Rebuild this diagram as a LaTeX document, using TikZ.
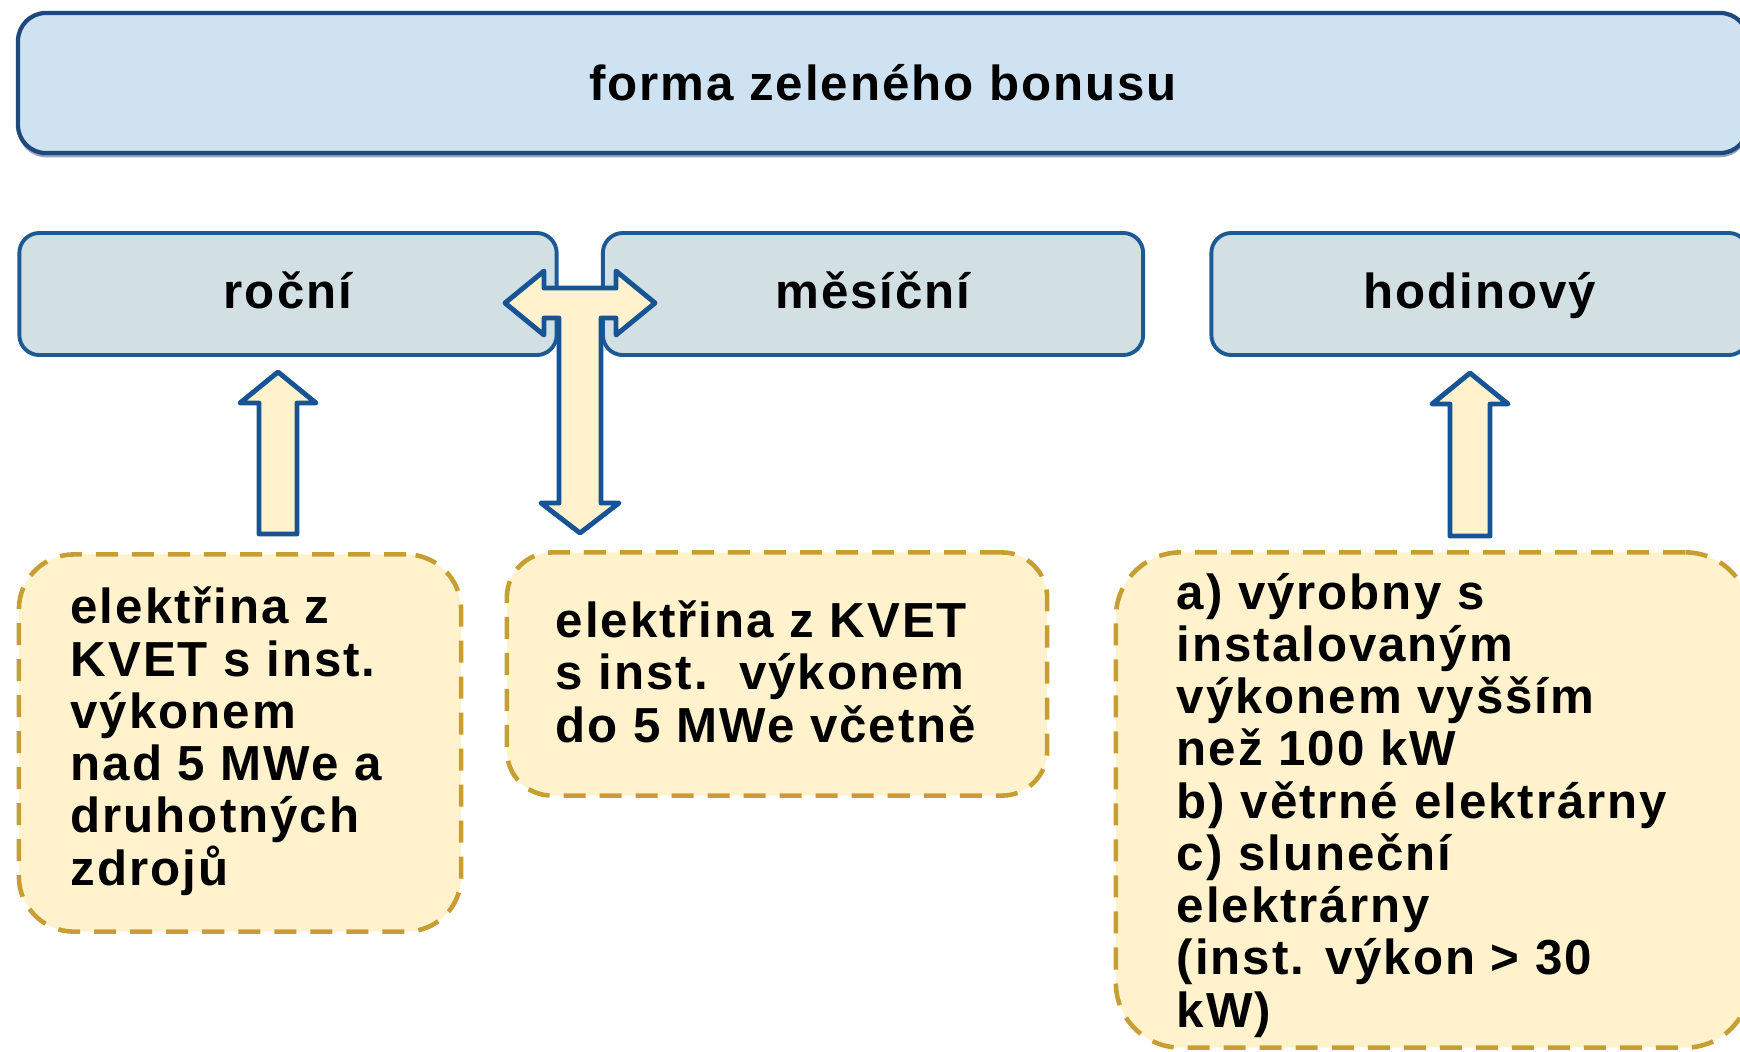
\documentclass[tikz,border=0pt]{standalone}
\usepackage{fontspec}
\setmainfont{Liberation Sans}[LetterSpace=4]
\usetikzlibrary{shadows}
\definecolor{topfill}{RGB}{207,226,242}
\definecolor{topline}{RGB}{31,73,125}
\definecolor{catfill}{RGB}{210,223,227}
\definecolor{catline}{RGB}{28,90,150}
\definecolor{notefill}{RGB}{255,242,204}
\definecolor{noteline}{RGB}{199,158,50}
\definecolor{arrowline}{RGB}{22,84,150}

\begin{document}
\begin{tikzpicture}[line join=round,x=0.01cm,y=-0.01cm,
  txt/.style={font=\bfseries\fontsize{14}{14.85}\selectfont},
  topbox/.style={txt,draw=topline,fill=topfill,line width=1.2pt,rounded corners=0.28cm,
    drop shadow={shadow xshift=0pt,shadow yshift=-1.2pt,fill=topline!70,opacity=.7}},
  catbox/.style={txt,draw=catline,fill=catfill,line width=1.1pt,rounded corners=0.2cm,
    minimum width=5.37cm,minimum height=1.22cm,text height=0.8em,text depth=0pt},
  notebox/.style={draw=noteline,fill=notefill,line width=1.3pt,dash pattern=on 0.22cm off 0.14cm},
  notetext/.style={txt,align=left,anchor=base west,inner sep=0pt},
  blockarrow/.style={draw=arrowline,fill=notefill,line width=1.4pt}]
\path[use as bounding box,clip] (0,0) rectangle (1740,1051);

% top row
\node[topbox,minimum width=17.29cm,minimum height=1.40cm] (forma) at (883,83) {forma zeleného bonusu};

% categories
\node[catbox] (rocni) at (288,294) {roční};
\node[catbox,minimum width=5.40cm] (mesicni) at (873,294) {měsíční};
\node[catbox] (hodinovy) at (1480,294) {hodinový};

% conditions
\node[notebox,rounded corners=0.55cm,minimum width=4.42cm,minimum height=3.77cm] (nrocni) at (240,743) {};
\node[notebox,rounded corners=0.45cm,minimum width=5.40cm,minimum height=2.43cm] (nmesicni) at (777,674) {};
\node[notebox,rounded corners=0.65cm,minimum width=6.34cm,minimum height=4.95cm] (nhodinovy) at (1433,800) {};

% base of a multi-line node = last line
\node[notetext] (trocni) at (70,885) {elektřina z\\KVET s inst.\\výkonem\\nad 5 MWe a\\druhotných\\zdrojů};
\node[notetext] (tmesicni) at (555,742) {elektřina z KVET\\s inst.\ \ výkonem\\do 5 MWe včetně};
\node[notetext] (thodinovy) at (1176,1027) {a) výrobny s\\instalovaným\\výkonem vyšším\\než 100 kW\\b) větrné elektrárny\\c) sluneční\\elektrárny\\(inst. výkon > 30\\kW)};

% arrows
\coordinate (rocniTip) at (278,372);
\coordinate (hodinTip) at (1470,373);
\coordinate (split) at (580,303);

\begin{scope}[shift={(rocniTip)}]
\draw[blockarrow] (0,0)--(38,31)--(19,31)--(19,162)--(-19,162)--(-19,31)--(-38,31)--cycle;
\end{scope}
\begin{scope}[shift={(hodinTip)}]
\draw[blockarrow] (0,0)--(38,31)--(20,31)--(20,163)--(-20,163)--(-20,31)--(-38,31)--cycle;
\end{scope}
\begin{scope}[shift={(split)}]
\draw[blockarrow] (-75,0)--(-36,-32)--(-36,-15)--(36,-15)--(36,-32)--(75,0)--(36,32)--(36,15)
  --(21,15)--(21,200)--(39,200)--(0,230)--(-39,200)--(-21,200)--(-21,15)--(-36,15)--(-36,32)--cycle;
\end{scope}
\end{tikzpicture}
\end{document}
